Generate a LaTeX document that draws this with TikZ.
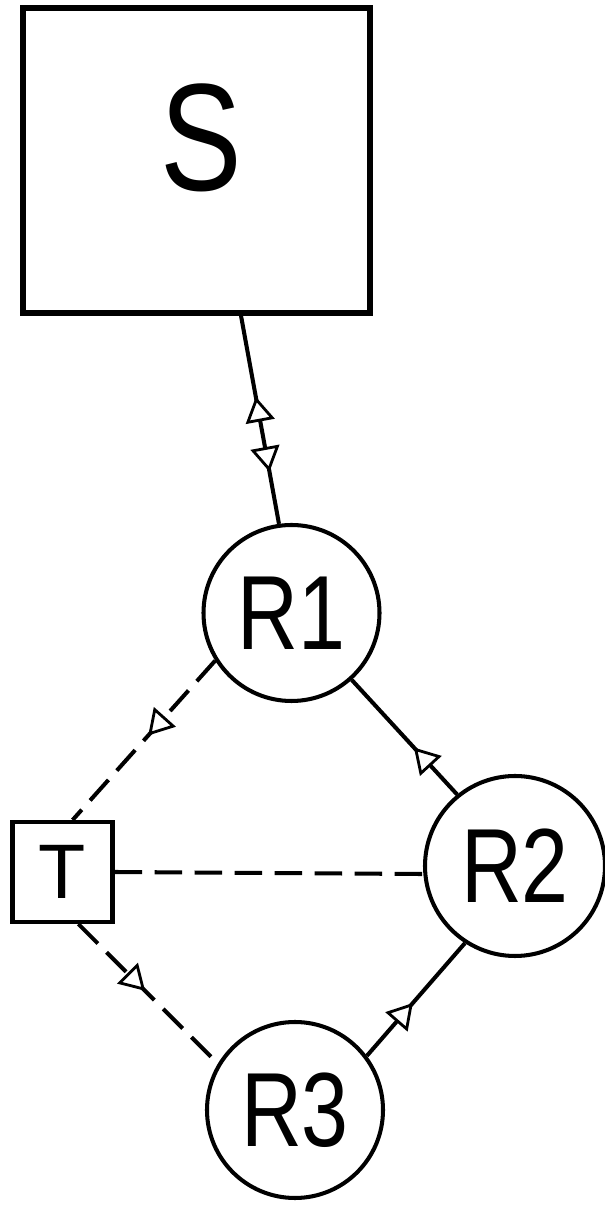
\documentclass[tikz,border=0pt]{standalone}
\usepackage{fontspec}
\setmainfont{Liberation Sans}
\newfontfamily\narrowfont[FakeStretch=0.8]{Liberation Sans}
\usetikzlibrary{arrows.meta}
\usetikzlibrary{decorations.markings}

\begin{document}
\begin{tikzpicture}[line width=2.3pt,
  >={Triangle[fill=white,length=0.5cm,width=0.58cm,line width=1.6pt]},
  rnode/.style={draw,circle,inner sep=0pt,minimum size=3.52cm,font=\narrowfont\fontsize{60}{60}\selectfont},
  sq/.style={draw,rectangle,inner sep=0pt},
  link/.style={dash pattern=on 0.55cm off 0.25cm},
  mid/.style={postaction={decorate},decoration={markings,mark=at position #1 with {\arrow{>}}}}]

\useasboundingbox (0,0) rectangle (12.08,24.16);

\node[sq,line width=3pt,minimum width=6.94cm,minimum height=6.1cm] (S) at (3.93,20.95) {};
\node[font=\narrowfont\fontsize{87}{87}\selectfont] (Slabel) at (4.02,21.4) {S};
\node[rnode] (R1) at (5.83,11.9) {R1};
\node[rnode,minimum size=3.6cm] (R2) at (10.30,6.84) {R2};
\node[rnode] (R3) at (5.90,1.96) {R3};
\node[sq,minimum size=2cm,font=\fontsize{44}{44}\selectfont] (T) at (1.25,6.72) {T};

% S <-> R1, one tip each way
\draw[postaction={decorate},decoration={markings,
  mark=at position 0.39 with {\arrowreversed{>}},
  mark=at position 0.75 with {\arrow{>}}}] (S.-74) -- (R1.98);

\draw[link,mid=0.47] (R1.212) -- (T.79);
\draw[mid=0.41] (R2.129) -- (R1.-48);
\draw[link] (T.east) -- (R2.185);
\draw[link,mid=0.48] (T.-73) -- (R3.149);
\draw[mid=0.47] (R3.37) -- (R2.237);

\end{tikzpicture}
\end{document}
